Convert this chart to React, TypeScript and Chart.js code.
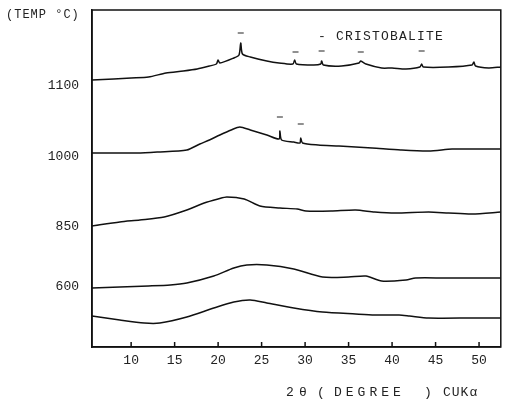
import React, { useEffect, useRef } from "react";
import { Chart, registerables } from "chart.js";

Chart.register(...registerables);

// 2θ (degrees) and stacked intensity (arbitrary units, offset per temperature)
const angles1100 = [5.5, 8, 10, 12, 14, 16, 17.6, 19, 19.8, 20, 20.2, 21.8, 22.4, 22.6, 22.8, 23.7, 25.6, 27, 28.6, 28.8, 29, 31, 31.8, 31.9, 32.1, 34.2, 36.2, 36.4, 37, 38.8, 40, 41.6, 43.2, 43.4, 43.6, 46.5, 49.2, 49.4, 49.6, 51.1, 52.5];
const int1100 = [267, 268, 269, 270, 274, 276, 278, 281, 283, 287, 284, 289, 292, 304, 293, 290, 286, 284, 283, 287, 283, 282, 283, 286, 282, 281, 284, 286, 283, 279, 279, 278, 280, 283, 280, 280, 282, 285, 281, 279, 280];

const angles1000 = [5.5, 8, 10.7, 13, 16.4, 17.9, 19, 20.2, 21.5, 22.5, 23.7, 25.6, 27, 27.1, 27.3, 28.7, 29.4, 29.5, 29.7, 31.5, 33.9, 37.7, 41, 44.2, 46.9, 49.2, 52.5];
const int1000 = [194, 194, 194, 195, 197, 203, 207, 212, 217, 220, 217, 212, 208, 216, 207, 205, 204, 209, 204, 202, 201, 199, 197, 196, 198, 198, 198];

const angles850 = [5.5, 8.7, 11, 13.8, 16.4, 18.4, 20, 21, 23, 24.8, 27.1, 29.1, 30.1, 33, 35.8, 38, 40.4, 44.2, 46.5, 49.2, 52.5];
const int850 = [121, 125, 127, 130, 137, 144, 148, 150, 148, 141, 139, 138, 136, 136, 137, 135, 134, 135, 134, 133, 135];

const angles600 = [5.5, 8.7, 12, 14.5, 16.4, 19.5, 21.8, 23.3, 25.6, 28.7, 32, 35, 37, 38.8, 41.6, 42.7, 46, 49.2, 52.5];
const int600 = [59, 60, 61, 62, 64, 71, 79, 82, 82, 78, 70, 70, 71, 66, 67, 69, 69, 69, 69];

const anglesRaw = [5.5, 8.7, 11.5, 13.3, 16.4, 19.5, 21.8, 23.7, 25.6, 28.7, 32, 35.8, 38, 40.8, 42, 44.2, 49.2, 52.5];
const intRaw = [31, 27, 24, 24, 30, 39, 45, 47, 44, 39, 35, 33, 32, 32, 31, 29, 29, 29];

// cristobalite marker positions
const markAngles = [22.6, 28.9, 31.9, 36.4, 43.4, 27.1, 29.5];
const markHeights = [314, 295, 296, 295, 296, 230, 223];

// y labels
const yTickValues = [60, 120, 190, 261];
const yTickLabels = ["600", "850", "1000", "1100"];
const xTickValues = [10, 15, 20, 25, 30, 35, 40, 45, 50];

const toPoints = (xs: number[], ys: number[]) => xs.map((x, i) => ({ x, y: ys[i] }));

const FONT = "'Liberation Mono', 'DejaVu Sans Mono', monospace";

export default function App() {
  const ref = useRef<HTMLCanvasElement | null>(null);
  useEffect(() => {
    if (!ref.current) return;
    const lineDs = (xs: number[], ys: number[], label: string) => ({
      type: "line" as const,
      label,
      data: toPoints(xs, ys),
      borderColor: "#111",
      borderWidth: 1.5,
      pointRadius: 0,
      tension: 0.25,
      fill: false,
    });
    const framePlugin = {
      id: "frame",
      afterDraw(chart: any) {
        const { ctx, chartArea, scales } = chart;
        ctx.save();
        ctx.strokeStyle = "#111";
        ctx.lineWidth = 1.5;
        ctx.strokeRect(chartArea.left, chartArea.top, chartArea.right - chartArea.left, chartArea.bottom - chartArea.top);
        // upward tick marks
        xTickValues.forEach((v) => {
          const px = scales.x.getPixelForValue(v);
          ctx.beginPath();
          ctx.moveTo(px, chartArea.bottom);
          ctx.lineTo(px, chartArea.bottom - 5);
          ctx.stroke();
        });
        ctx.fillStyle = "#222";
        ctx.textBaseline = "middle";
        ctx.textAlign = "left";
        ctx.font = "12px " + FONT;
        (ctx as any).letterSpacing = "1px";
        ctx.fillText("(TEMP °C)", 6, 15);
        ctx.font = "13px " + FONT;
        (ctx as any).letterSpacing = "1.2px";
        ctx.fillText("- CRISTOBALITE", 318, 37);
        (ctx as any).letterSpacing = "0px";
        ctx.fillText("2", 286, 393);
        ctx.fillText("θ", 299, 393);
        ctx.fillText("(", 317, 393);
        (ctx as any).letterSpacing = "4px";
        ctx.fillText("DEGREE", 334, 393);
        (ctx as any).letterSpacing = "1px";
        ctx.fillText(")", 424, 393);
        ctx.fillText("CUKα", 443, 393);
        ctx.restore();
      },
    };
    const chart = new Chart(ref.current, {
      type: "line",
      data: {
        datasets: [
          lineDs(angles1100, int1100, "1100"),
          lineDs(angles1000, int1000, "1000"),
          lineDs(angles850, int850, "850"),
          lineDs(angles600, int600, "600"),
          lineDs(anglesRaw, intRaw, "raw"),
          {
            type: "scatter" as const,
            label: "cristobalite",
            data: toPoints(markAngles, markHeights),
            pointStyle: "line",
            pointRadius: 3,
            borderColor: "#222",
            borderWidth: 1.2,
            backgroundColor: "#222",
          } as any,
        ],
      },
      options: {
        animation: false,
        responsive: true,
        maintainAspectRatio: false,
        layout: { padding: { top: 10, right: 4, left: 0, bottom: 0 } },
        plugins: { legend: { display: false }, tooltip: { enabled: false } },
        scales: {
          x: {
            type: "linear",
            min: 5.5,
            max: 52.5,
            grid: { display: false, drawTicks: false },
            border: { display: true, color: "#111", width: 1.5 },
            afterBuildTicks: (s: any) => {
              s.ticks = xTickValues.map((value) => ({ value }));
            },
            afterFit: (s: any) => {
              s.height = 62;
              s.paddingLeft = 0;
              s.paddingRight = 0;
            },
            ticks: {
              color: "#222",
              font: { family: FONT, size: 13 },
              padding: 6,
              maxRotation: 0,
              autoSkip: false,
            },
          },
          y: {
            type: "linear",
            min: 0,
            max: 337,
            grid: { display: false, drawTicks: false },
            border: { display: true, color: "#111", width: 1.5 },
            afterBuildTicks: (s: any) => {
              s.ticks = yTickValues.map((value) => ({ value }));
            },
            afterFit: (s: any) => {
              s.width = 92;
              s.paddingTop = 0;
              s.paddingBottom = 0;
            },
            ticks: {
              color: "#222",
              font: { family: FONT, size: 13 },
              padding: 13,
              autoSkip: false,
              callback: (v: any) => {
                const i = yTickValues.indexOf(Number(v));
                return i >= 0 ? yTickLabels[i] : "";
              },
            },
          },
        },
      },
      plugins: [framePlugin],
    });
    return () => chart.destroy();
  }, []);
  return (
    <div style={{ position: "absolute", left: 0, top: 0, width: 506, height: 409, background: "#fff" }}>
      <canvas ref={ref} />
    </div>
  );
}
